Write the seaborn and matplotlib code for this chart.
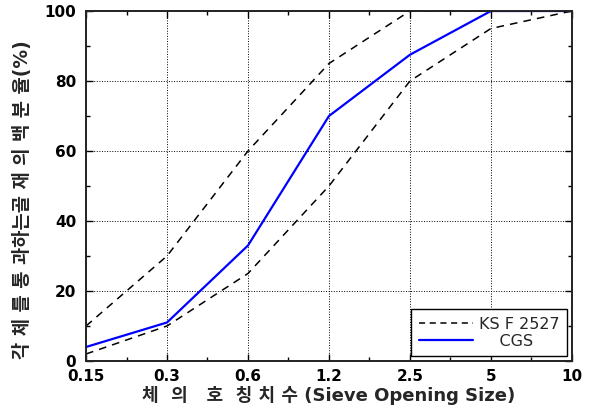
import pandas as pd
import seaborn as sns
import matplotlib.pyplot as plt
from matplotlib.lines import Line2D
from matplotlib.ticker import MultipleLocator

# sieve sizes (mm) and passing percentages
sieve = ["0.15", "0.3", "0.6", "1.2", "2.5", "5", "10"]
ks_upper = [10, 30, 60, 85, 100, 100, 100]
ks_lower = [2, 10, 25, 50, 80, 95, 100]
cgs = [4, 11, 33, 70, 87.5, 100, 100]

df = pd.DataFrame({"pos": range(len(sieve)), "upper": ks_upper,
                   "lower": ks_lower, "cgs": cgs})

sns.set_style("ticks")
plt.rcParams['font.family'] = ['DejaVu Sans', 'Noto Sans CJK KR']

fig = plt.figure(figsize=(6.02, 4.09), dpi=100)
ax = fig.add_axes([0.1429, 0.1174, 0.8071, 0.8557])

sns.lineplot(data=df, x="pos", y="upper", ax=ax, color="black", lw=1.1,
             linestyle=(0, (5, 4)))
sns.lineplot(data=df, x="pos", y="lower", ax=ax, color="black", lw=1.1,
             linestyle=(0, (5, 4)))
sns.lineplot(data=df, x="pos", y="cgs", ax=ax, color="#0000ff", lw=1.6)

ax.set_xlim(0, 6)
ax.set_ylim(0, 100)
ax.set_xticks(range(len(sieve)))
ax.set_xticklabels(sieve)
ax.xaxis.set_minor_locator(MultipleLocator(0.5))
ax.set_yticks([0, 20, 40, 60, 80, 100])
ax.yaxis.set_minor_locator(MultipleLocator(10))
ax.grid(True, which="major", color="black", linestyle=":", lw=0.7)
ax.tick_params(which="both", direction="in", top=True, right=True,
               colors="black", width=1)
ax.tick_params(which="major", length=5, labelsize=11)
ax.tick_params(axis="x", which="major", pad=6)
ax.tick_params(axis="y", which="major", pad=7)
ax.tick_params(which="minor", length=3)
for lab in ax.get_xticklabels() + ax.get_yticklabels():
    lab.set_fontweight("bold")
for s in ax.spines.values():
    s.set_color("#222222")
    s.set_linewidth(1.4)

ax.set_xlabel("체  의   호  칭 치 수 (Sieve Opening Size)", fontsize=13,
              fontweight="bold", labelpad=1)
ax.set_ylabel("각 체 를 통 과하는골 재 의 백 분 율(%)", fontsize=13.5,
              fontweight="bold")
ax.yaxis.set_label_coords(-0.112, 0.46)

handles = [Line2D([], [], color="black", lw=1.1, linestyle=(0, (4, 3))),
           Line2D([], [], color="#0000ff", lw=1.6)]
leg = ax.legend(handles, ["KS F 2527", "    CGS"], loc="lower right",
                fontsize=11.5, fancybox=False, framealpha=1, edgecolor="black",
                borderaxespad=0.3, handlelength=3.4, borderpad=0.45,
                labelspacing=0.15, handletextpad=0.4)
leg.get_frame().set_linewidth(1.0)

fig.savefig("out.png", dpi=100)
